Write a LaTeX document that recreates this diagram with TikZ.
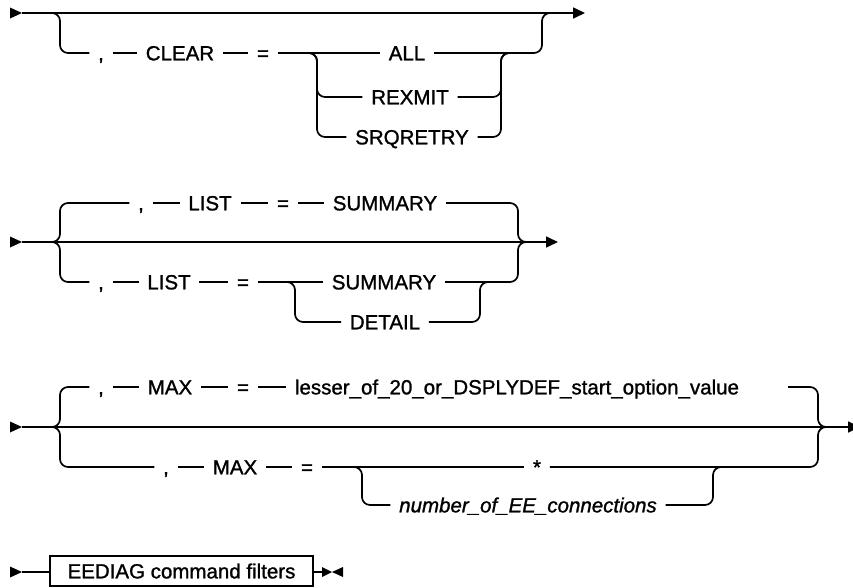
\documentclass[tikz,border=0pt]{standalone}
\usepackage{fontspec}
\setmainfont{Liberation Sans}
\newfontfamily\rrfont{Liberation Sans}[FakeBold=1.2]
\usetikzlibrary{arrows.meta}
\begin{document}
\begin{tikzpicture}[x=1pt,y=-1pt, line width=1.7pt,
  t/.style={font=\rrfont\fontsize{20.5}{24}\selectfont, inner xsep=8pt, inner ysep=0pt, text height=14.7pt, text depth=0pt},
  ti/.style={t, font=\rrfont\fontsize{20.5}{24}\selectfont\itshape},
  rc/.style={rounded corners=8pt},
  arr/.style={-{Triangle[length=12pt,width=11pt]}}]
\useasboundingbox (0,0) rectangle (853,587);

% ---------- section 1 : CLEAR ----------
\coordinate (s1) at (10,13);
\coordinate (s1e) at (22,13);
\coordinate (e1) at (585,13);
\fill (s1) -- ++(0,-5.5) -- ++(12,5.5) -- ++(-12,5.5) -- cycle;
\draw[arr] (s1e) -- (e1);
\node[t] (c1) at (101,53) {,};
\node[t] (clear) at (180,53) {CLEAR};
\node[t] (eq1) at (263,53) {=};
\node[t] (all) at (407,53) {ALL};
\node[t] (rex) at (410,97) {REXMIT};
\node[t] (srq) at (412,137) {SRQRETRY};
\coordinate (b1) at (50,13);
\coordinate (b1r) at (552,13);
\draw[rc] (b1) -- (60,13) -- (60,53) -- (c1.west);
\draw (c1.east) -- (clear.west);
\draw (clear.east) -- (eq1.west);
\draw (eq1.east) -- (all.west);
\coordinate (il1) at (305,53);
\coordinate (ir1) at (513,53);
\draw[rc] (il1) -- (317,53) -- (317,97) -- (rex.west);
\draw[rc] (il1) -- (317,53) -- (317,137) -- (srq.west);
\draw[rc] (rex.east) -- (501,97) -- (501,53) -- (ir1);
\draw[rc] (srq.east) -- (501,137) -- (501,53) -- (ir1);
\draw[rc] (all.east) -- (542,53) -- (542,13) -- (b1r);

% ---------- section 2 : LIST ----------
\coordinate (s2) at (10,242);
\coordinate (s2e) at (22,242);
\coordinate (e2) at (558,242);
\fill (s2) -- ++(0,-5.5) -- ++(12,5.5) -- ++(-12,5.5) -- cycle;
\draw[arr] (s2e) -- (e2);
\coordinate (b2) at (52,242);
\coordinate (j2) at (527,242);
\node[t] (c2a) at (141,203) {,};
\node[t] (list2a) at (210,203) {LIST};
\node[t] (eq2a) at (283,203) {=};
\node[t] (sum2a) at (385,203) {SUMMARY};
\node[t] (c2b) at (101,282) {,};
\node[t] (list2b) at (169,282) {LIST};
\node[t] (eq2b) at (243,282) {=};
\node[t] (sum2b) at (384,282) {SUMMARY};
\node[t] (det) at (385,322) {DETAIL};
\draw[rc] (b2) -- (60,242) -- (60,203) -- (c2a.west);
\draw (c2a.east) -- (list2a.west);
\draw (list2a.east) -- (eq2a.west);
\draw (eq2a.east) -- (sum2a.west);
\draw[rc] (sum2a.east) -- (518,203) -- (518,242) -- (j2);
\draw[rc] (b2) -- (60,242) -- (60,282) -- (c2b.west);
\draw (c2b.east) -- (list2b.west);
\draw (list2b.east) -- (eq2b.west);
\draw (eq2b.east) -- (sum2b.west);
\draw[rc] (sum2b.east) -- (518,282) -- (518,242) -- (j2);
\coordinate (il2) at (283,282);
\coordinate (ir2) at (492,282);
\draw[rc] (il2) -- (295,282) -- (295,322) -- (det.west);
\draw[rc] (det.east) -- (480,322) -- (480,282) -- (ir2);

% ---------- section 3 : MAX ----------
\coordinate (s3) at (10,427);
\coordinate (s3e) at (22,427);
\coordinate (e3) at (860,427);
\fill (s3) -- ++(0,-5.5) -- ++(12,5.5) -- ++(-12,5.5) -- cycle;
\draw[arr] (s3e) -- (e3);
\coordinate (b3) at (52,427);
\coordinate (j3) at (827,427);
\node[t] (c3a) at (101,387) {,};
\node[t] (max3a) at (170,387) {MAX};
\node[t] (eq3a) at (243,387) {=};
\node[t] (lesser) at (517,387) {lesser\_of\_20\_or\_DSPLYDEF\_start\_option\_value};
\coordinate (r3a) at (788,387);
\draw[rc] (b3) -- (60,427) -- (60,387) -- (c3a.west);
\draw (c3a.east) -- (max3a.west);
\draw (max3a.east) -- (eq3a.west);
\draw (eq3a.east) -- (lesser.west);
\draw[rc] (r3a) -- (818,387) -- (818,427) -- (j3);
\node[t] (c3b) at (166,467) {,};
\node[t] (max3b) at (235,467) {MAX};
\node[t] (eq3b) at (307,467) {=};
\node[t] (star) at (537,467) {*};
\node[ti] (num) at (528,505) {number\_of\_EE\_connections};
\draw[rc] (b3) -- (60,427) -- (60,467) -- (c3b.west);
\draw (c3b.east) -- (max3b.west);
\draw (max3b.east) -- (eq3b.west);
\draw (eq3b.east) -- (star.west);
\draw[rc] (star.east) -- (818,467) -- (818,427) -- (j3);
\coordinate (il3) at (350,467);
\coordinate (ir3) at (725,467);
\draw[rc] (il3) -- (362,467) -- (362,505) -- (num.west);
\draw[rc] (num.east) -- (713,505) -- (713,467) -- (ir3);

% ---------- section 4 : fragment reference ----------
\coordinate (s4) at (10,572);
\coordinate (s4e) at (22,572);
\fill (s4) -- ++(0,-5.5) -- ++(12,5.5) -- ++(-12,5.5) -- cycle;
\node[draw, line width=1.5pt, font=\rrfont\fontsize{20.5}{24}\selectfont, minimum width=263pt, minimum height=30pt, inner sep=0pt, text height=14.7pt, text depth=0pt] (frag) at (181.5,571) {EEDIAG command filters};
\coordinate (m4) at (322,572);
\coordinate (m4c) at (332,572);
\coordinate (m4r) at (343,572);
\draw (s4e) -- (frag.west |- s4e);
\draw (frag.east |- m4) -- (m4);
\fill (m4) -- ++(0,-5) -- (m4c) -- (m4) -- ++(0,5) -- (m4c) -- cycle;
\fill (m4r) -- ++(0,-5) -- (m4c) -- cycle;
\fill (m4r) -- ++(0,5) -- (m4c) -- cycle;
\end{tikzpicture}
\end{document}
